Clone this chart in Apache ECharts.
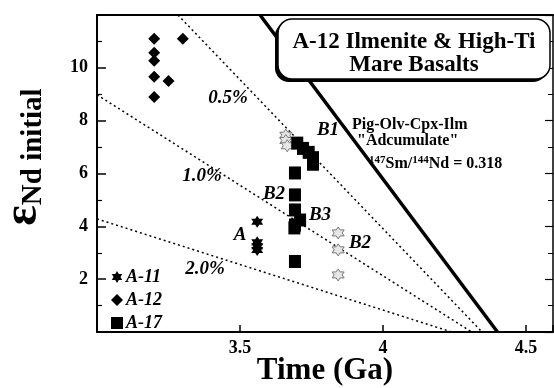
<!DOCTYPE html>
<html><head><meta charset="utf-8">
<script src="https://cdn.jsdelivr.net/npm/echarts@6/dist/echarts.min.js"></script>
<style>html,body{margin:0;padding:0;background:#fff}#c{width:554px;height:388px}</style>
</head><body><div id="c"></div>
<script>
// ---- data (Time in Ga, epsilon Nd initial) ----
const xTickLabels = ['3.5', '4', '4.5'];
const yTickLabels = ['2', '4', '6', '8', '10'];
const legendNames = ['A-11', 'A-12', 'A-17'];

const a11Black = [[3.56, 4.17], [3.56, 3.40], [3.56, 3.25], [3.56, 3.10]];
const a11Grey = [[3.66, 7.45], [3.66, 7.25], [3.665, 7.05], [3.843, 3.75], [3.843, 3.11], [3.843, 2.16]];
const a12 = [[3.2, 11.1], [3.2, 10.57], [3.2, 10.27], [3.2, 9.66], [3.2, 8.9], [3.25, 9.5], [3.30, 11.1]];
const a17 = [[3.70, 7.15], [3.72, 6.95], [3.74, 6.8], [3.755, 6.6], [3.755, 6.35],
             [3.692, 6.02], [3.692, 5.19], [3.692, 4.62], [3.71, 4.24], [3.692, 4.05], [3.69, 3.94], [3.692, 2.67]];

const adcumulateLine = [[3.57, 12], [4.40, 0]];
const line05 = [[3.283, 12], [4.346, 0]];
const line10 = [[3.0, 8.98], [4.31, 0]];
const line20 = [[3.0, 4.28], [4.24, 0]];

const starPath = 'path://M10 0L12.9 4.98L18.66 5L15.8 10L18.66 15L12.9 15.02L10 20L7.1 15.02L1.34 15L4.2 10L1.34 5L7.1 4.98Z';
const FONT = 'Liberation Serif';

const chart = echarts.init(document.getElementById('c'), null, {renderer: 'canvas'});

function bi(size, italic) {
  return {fontFamily: FONT, fontWeight: 'bold', fontStyle: italic ? 'italic' : 'normal', fontSize: size, fill: '#000'};
}
function txt(text, x, y, size, italic, align) {
  return {type: 'text', x: x, y: y, z: 100,
    style: Object.assign(bi(size, italic), {text: text, align: align || 'center', verticalAlign: 'middle'})};
}

const option = {
  backgroundColor: '#fff',
  animation: false,
  grid: {left: 97, top: 15, right: 1, bottom: 56, containLabel: false, outerBoundsMode: 'none'},
  xAxis: [{
    type: 'value', min: 3.0, max: 4.594, interval: 0.5, position: 'bottom',
    name: 'Time (Ga)', nameLocation: 'middle', nameGap: 23, nameMoveOverlap: false,
    nameTextStyle: {fontFamily: FONT, fontWeight: 'bold', fontSize: 31, color: '#000'},
    axisLine: {show: true, onZero: false, lineStyle: {color: '#000', width: 2}},
    axisTick: {show: true, inside: true, length: 7, lineStyle: {color: '#000', width: 1.5}},
    splitLine: {show: false},
    axisLabel: {margin: 7, fontFamily: FONT, fontWeight: 'bold', fontSize: 18, color: '#000',
      formatter: v => (xTickLabels.indexOf(String(v)) >= 0 ? String(v) : '')}
  }, {
    type: 'value', min: 3.0, max: 4.594, position: 'top',
    axisLine: {show: true, onZero: false, lineStyle: {color: '#000', width: 2}},
    axisTick: {show: false}, axisLabel: {show: false}, splitLine: {show: false}
  }],
  yAxis: [{
    type: 'value', min: 0, max: 12, interval: 2, position: 'left',
    axisLine: {show: true, onZero: false, lineStyle: {color: '#000', width: 2}},
    axisTick: {show: true, inside: true, length: 9, lineStyle: {color: '#000', width: 1.5}},
    minorTick: {show: true, splitNumber: 2, length: 5, lineStyle: {color: '#000', width: 1.2}},
    splitLine: {show: false},
    axisLabel: {margin: 9, fontFamily: FONT, fontWeight: 'bold', fontSize: 18, color: '#000',
      formatter: v => (yTickLabels.indexOf(String(v)) >= 0 ? String(v) : '')}
  }, {
    type: 'value', min: 0, max: 12, interval: 2, position: 'right',
    axisLine: {show: true, onZero: false, lineStyle: {color: '#000', width: 1.5}},
    axisTick: {show: true, inside: true, length: 8, lineStyle: {color: '#000', width: 1.2}},
    minorTick: {show: true, splitNumber: 2, length: 5, lineStyle: {color: '#000', width: 1}},
    axisLabel: {show: false}, splitLine: {show: false}
  }],
  legend: {
    data: legendNames, orient: 'vertical', left: 106, top: 263, itemGap: 5,
    itemWidth: 12, itemHeight: 12,
    textStyle: {fontFamily: FONT, fontWeight: 'bold', fontStyle: 'italic', fontSize: 18, color: '#000', padding: [0, 0, 0, -2]}
  },
  series: [
    {name: 'Adcumulate', type: 'line', data: adcumulateLine, symbol: 'none', silent: true,
     lineStyle: {color: '#000', width: 3.5}, z: 1},
    {name: '0.5%', type: 'line', data: line05, symbol: 'none', silent: true,
     lineStyle: {color: '#000', width: 1.5, type: [2, 3]}, z: 1},
    {name: '1.0%', type: 'line', data: line10, symbol: 'none', silent: true,
     lineStyle: {color: '#000', width: 1.5, type: [2, 3]}, z: 1},
    {name: '2.0%', type: 'line', data: line20, symbol: 'none', silent: true,
     lineStyle: {color: '#000', width: 1.5, type: [2, 3]}, z: 1},
    {name: 'A-11', type: 'scatter', data: a11Black, symbol: starPath, symbolSize: 12,
     itemStyle: {color: '#000', opacity: 1}, z: 3},
    {name: 'A-11', type: 'scatter', data: a11Grey, symbol: starPath, symbolSize: 12,
     itemStyle: {color: '#e6e6e6', borderColor: '#777', borderWidth: 1, opacity: 1}, z: 2},
    {name: 'A-12', type: 'scatter', data: a12, symbol: 'diamond', symbolSize: [12, 12],
     itemStyle: {color: '#000', opacity: 1}, z: 3},
    {name: 'A-17', type: 'scatter', data: a17, symbol: 'rect', symbolSize: [12, 13],
     itemStyle: {color: '#000', opacity: 1}, z: 3}
  ],
  graphic: [
    // y axis title
    {type: 'text', x: 48, y: 157, rotation: Math.PI / 2, z: 100,
     style: {text: '{e|ε}{s|Nd initial}', align: 'center', verticalAlign: 'bottom',
       rich: {e: {fontFamily: FONT, fontWeight: 'bold', fontSize: 48, verticalAlign: 'bottom', fill: '#000'},
              s: {fontFamily: FONT, fontWeight: 'bold', fontSize: 29, verticalAlign: 'bottom', fill: '#000'}}}},
    // title box
    {type: 'rect', z: 90, shape: {x: 275, y: 22, width: 272, height: 60, r: 14}, style: {fill: '#000'}},
    {type: 'rect', z: 91, shape: {x: 278, y: 19, width: 272, height: 60, r: 14},
     style: {fill: '#fff', stroke: '#000', lineWidth: 1.5}},
    txt('A-12 Ilmenite & High-Ti', 414, 42, 23, false),
    txt('Mare Basalts', 414, 65, 23, false),
    // annotation
    txt('Pig-Olv-Cpx-Ilm', 352, 125, 16, false, 'left'),
    txt('"Adcumulate"', 357, 141, 16, false, 'left'),
    {type: 'text', x: 369, y: 163, z: 100,
     style: {text: '{sup|147}{n|Sm/}{sup|144}{n|Nd = 0.318}', align: 'left', verticalAlign: 'middle',
       rich: {sup: {fontFamily: FONT, fontWeight: 'bold', fontSize: 11, verticalAlign: 'top', padding: [0, 0, 6, 0], fill: '#000'},
              n: {fontFamily: FONT, fontWeight: 'bold', fontSize: 16, verticalAlign: 'bottom', fill: '#000'}}}},
    // curve labels
    txt('0.5%', 228, 98, 19, true),
    txt('1.0%', 202, 176, 19, true),
    txt('2.0%', 205, 269, 19, true),
    txt('B1', 328, 130, 19, true),
    txt('B2', 274, 194, 19, true),
    txt('B3', 320, 215, 19, true),
    txt('B2', 360, 243, 19, true),
    txt('A', 240, 235, 19, true)
  ]
};
chart.setOption(option);
</script></body></html>
